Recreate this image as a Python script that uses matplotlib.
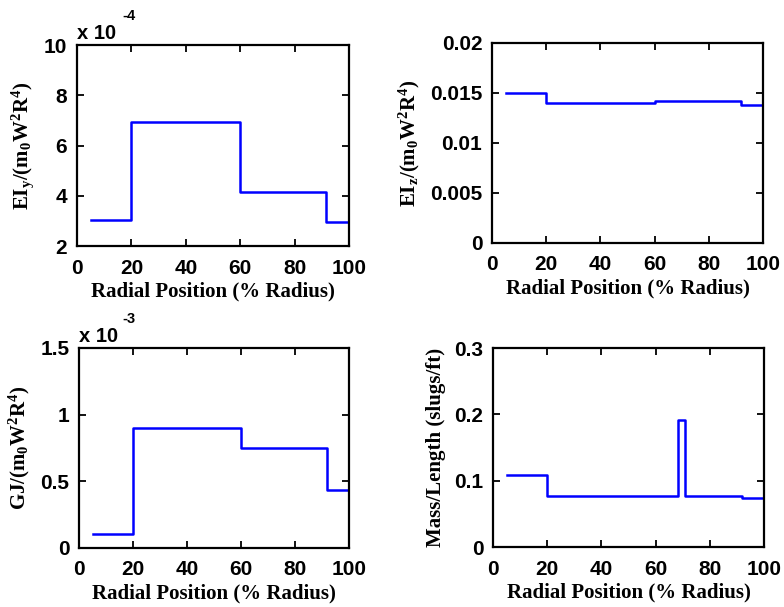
import matplotlib
matplotlib.use("Agg")
import matplotlib.pyplot as plt
import numpy as np

# step data: segment edges (% radius) and segment values
eiy_edges = [5, 20, 60, 91.5, 100]
eiy_vals = [3.03, 6.92, 4.15, 2.97]  # x 1e-4

eiz_edges = [5, 20, 60, 91.7, 100]
eiz_vals = [0.0150, 0.0140, 0.01418, 0.01378]

gj_edges = [5, 20, 60, 91.7, 100]
gj_vals = [0.105, 0.90, 0.75, 0.435]  # x 1e-3

mass_edges = [5, 20, 68.2, 71, 91.7, 100]
mass_vals = [0.108, 0.077, 0.192, 0.077, 0.074]

xticks = [0, 20, 40, 60, 80, 100]

plt.rcParams["mathtext.fontset"] = "custom"
plt.rcParams["mathtext.rm"] = "Liberation Serif:bold"
plt.rcParams["mathtext.it"] = "Liberation Serif:bold"
plt.rcParams["mathtext.bf"] = "Liberation Serif:bold"

TICKFONT = dict(family="Liberation Sans", weight="bold", size=15)
LABELFONT = dict(family="Liberation Serif", weight="bold", size=15)


def step_panel(ax, edges, vals, ylim, yticks, yticklabels, ylabel):
    ys = list(vals) + [vals[-1]]
    ax.step(edges, ys, where="post", color="#0000ff", lw=1.8)
    ax.set_xlim(0, 100)
    ax.set_ylim(*ylim)
    ax.set_xticks(xticks)
    ax.set_xticklabels([str(t) for t in xticks], fontdict=TICKFONT)
    ax.set_yticks(yticks)
    ax.set_yticklabels(yticklabels, fontdict=TICKFONT)
    ax.tick_params(direction="in", length=5, width=1.3, top=True, right=True, pad=7)
    ax.tick_params(axis="x", pad=9)
    for s in ax.spines.values():
        s.set_linewidth(1.6)
    ax.set_xlabel("Radial Position (% Radius)", fontdict=LABELFONT, labelpad=3)
    ax.set_ylabel(ylabel, fontdict=LABELFONT, labelpad=6)


def exponent(ax, power, xsup):
    # MATLAB-style "x 10^n" multiplier above the y axis
    ax.text(0.0, 1.032, "x 10", transform=ax.transAxes, ha="left", va="baseline",
            family="Liberation Sans", weight="bold", size=14.5)
    ax.text(xsup, 1.124, power, transform=ax.transAxes, ha="left", va="baseline",
            family="Liberation Sans", weight="bold", size=10.5)


fig = plt.figure(figsize=(7.84, 6.07), dpi=100)
ax1 = fig.add_axes([0.0982, 0.5947, 0.347, 0.331])
ax2 = fig.add_axes([0.6276, 0.5997, 0.3457, 0.3295])
ax3 = fig.add_axes([0.1008, 0.0972, 0.3444, 0.3295])
ax4 = fig.add_axes([0.6288, 0.0988, 0.3457, 0.3278])

step_panel(ax1, eiy_edges, eiy_vals, (2, 10), [2, 4, 6, 8, 10],
           ["2", "4", "6", "8", "10"],
           r"EI$_\mathrm{y}$/(m$_\mathrm{0}$W$^\mathrm{2}$R$^\mathrm{4}$)")
exponent(ax1, "-4", 0.165)

step_panel(ax2, eiz_edges, eiz_vals, (0, 0.02), [0, 0.005, 0.01, 0.015, 0.02],
           ["0", "0.005", "0.01", "0.015", "0.02"],
           r"EI$_\mathrm{z}$/(m$_\mathrm{0}$W$^\mathrm{2}$R$^\mathrm{4}$)")

step_panel(ax3, gj_edges, gj_vals, (0, 1.5), [0, 0.5, 1, 1.5],
           ["0", "0.5", "1", "1.5"],
           r"GJ/(m$_\mathrm{0}$W$^\mathrm{2}$R$^\mathrm{4}$)")
exponent(ax3, "-3", 0.159)

step_panel(ax4, mass_edges, mass_vals, (0, 0.3), [0, 0.1, 0.2, 0.3],
           ["0", "0.1", "0.2", "0.3"],
           "Mass/Length (slugs/ft)")

fig.savefig("out.png", dpi=100)
